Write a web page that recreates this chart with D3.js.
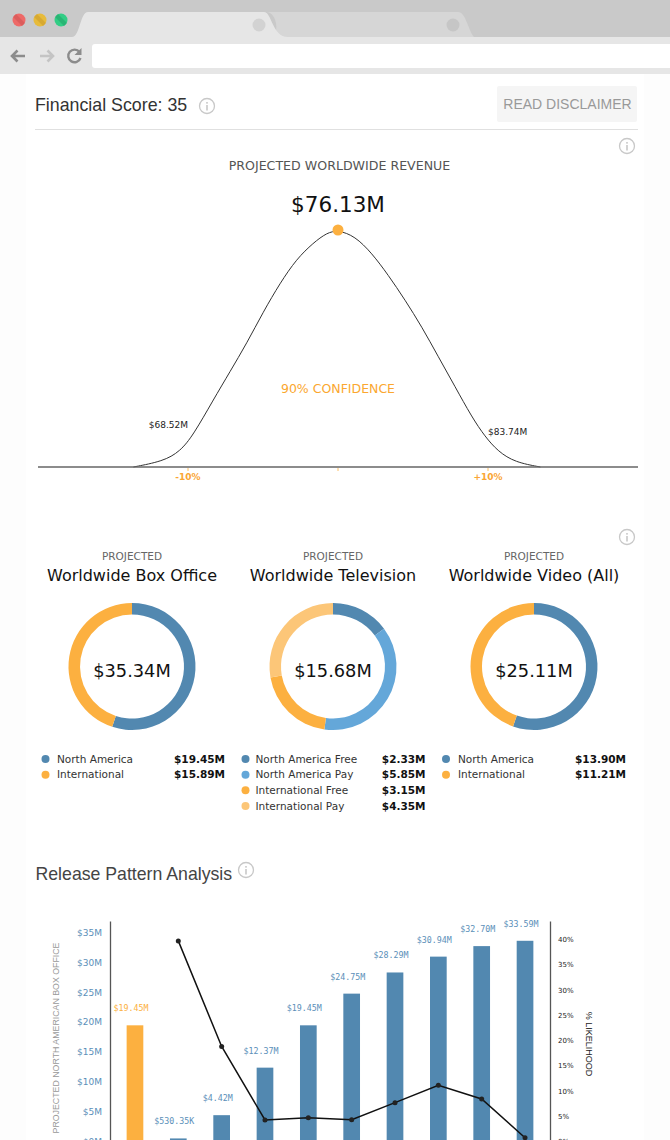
<!DOCTYPE html>
<html>
<head>
<meta charset="utf-8">
<script src="https://cdnjs.cloudflare.com/ajax/libs/d3/7.8.5/d3.min.js"></script>
<style>
	html, body { margin: 0; padding: 0; background: #fff; overflow: hidden; }
	svg { display: block; }
	text { font-family: "DejaVu Sans", sans-serif; }
	.helv { font-family: "Liberation Sans", Arial, sans-serif; }
	.mono { font-family: "DejaVu Sans Mono", monospace; }
	.domain { stroke: #555; stroke-width: 1.3; }
</style>
</head>
<body>
<svg id="page" width="670" height="1140"></svg>
<script>
// curve: revenue in $M, height in % of peak
var curve_revenue = [65.75, 67.25, 68.11, 68.79, 69.80, 70.65, 71.50, 72.34, 73.19, 74.03, 74.88, 75.56, 76.13, 76.99, 77.84, 78.68, 79.53, 80.38, 81.22, 82.07, 82.91, 83.59, 84.26, 85.11, 86.40]
var curve_height = [0, 2.4, 6.5, 13.5, 28.3, 40.2, 52.2, 65.5, 77.6, 87.8, 94.6, 98.8, 100, 97.4, 90.3, 81, 70.5, 59.2, 46.5, 33.9, 21.2, 12.8, 6.5, 2.0, 0]
var curve_ticks = [68.52, 76.13, 83.74]
var curve_tick_labels = ['-10%', '', '+10%']
var curve_value_labels = ['$68.52M', '$83.74M']

var donut_titles = ['Worldwide Box Office', 'Worldwide Television', 'Worldwide Video (All)']
var donut_totals = ['$35.34M', '$15.68M', '$25.11M']
var box_office_names = ['North America', 'International']
var box_office_values = [19.45, 15.89]
var television_names = ['North America Free', 'North America Pay', 'International Free', 'International Pay']
var television_values = [2.33, 5.85, 3.15, 4.35]
var video_names = ['North America', 'International']
var video_values = [13.90, 11.21]

var weeks = ['w0', 'w1', 'w2', 'w3', 'w4', 'w5', 'w6', 'w7', 'w8', 'w9']
var box_office = [19.45, 0.53035, 4.42, 12.37, 19.45, 24.75, 28.29, 30.94, 32.70, 33.59]
var box_office_labels = ['$19.45M', '$530.35K', '$4.42M', '$12.37M', '$19.45M', '$24.75M', '$28.29M', '$30.94M', '$32.70M', '$33.59M']
var likelihood = [null, 39.67, 18.8, 4.27, 4.73, 4.33, 7.7, 11.13, 8.42, 0.77]
var left_ticks = [0, 5, 10, 15, 20, 25, 30, 35]
var right_ticks = [0, 5, 10, 15, 20, 25, 30, 35, 40]

var BLUE = '#5288b0'
var LIGHT_BLUE = '#64a7d9'
var ORANGE = '#fcb040'
var LIGHT_ORANGE = '#fcc678'

var svg = d3.select('#page')

function label(parent, x, y, str, size, color, anchor, cls, weight){
	return parent.append('text')
		.attr('x', x)
		.attr('y', y)
		.attr('class', cls || null)
		.attr('text-anchor', anchor || 'start')
		.style('font-size', size + 'px')
		.style('font-weight', weight || 'normal')
		.style('fill', color)
		.text(str)
}

function info(x, y){
	var g = svg.append('g').attr('transform', 'translate(' + x + ',' + y + ')')
	g.append('circle').attr('r', 7.5).style('fill', 'none').style('stroke', '#c8c8c8').style('stroke-width', 1.3)
	g.append('circle').attr('cy', -3.2).attr('r', 0.9).style('fill', '#c0c0c0')
	g.append('rect').attr('x', -0.7).attr('y', -1).attr('width', 1.4).attr('height', 5.5).style('fill', '#c0c0c0')
}

function browser(){
	svg.append('rect').attr('width', 670).attr('height', 1140).style('fill', '#fdfdfd')
	svg.append('rect').attr('x', 26).attr('width', 618).attr('height', 1140).style('fill', '#fff')
	svg.append('rect').attr('width', 670).attr('height', 38).style('fill', '#c9c9c9')
	svg.append('path').attr('d', 'M270,37 C280,37 278,12 266,12 L458,12 C466,12 468,30 474,37 Z').style('fill', '#d6d6d6')
	svg.append('path').attr('d', 'M72,37 C80,37 80,12 88,12 L264,12 C272,12 272,37 288,37 Z').style('fill', '#e6e6e6')
	svg.append('rect').attr('y', 37).attr('width', 670).attr('height', 37).style('fill', '#e6e6e6')
	svg.append('rect').attr('x', 92).attr('y', 44).attr('width', 590).attr('height', 24).attr('rx', 3).style('fill', '#fff')
	var lights = [[19, '#ee6a68', '#d85a5a'], [40, '#e7bb3b', '#d4a52f'], [61, '#32cd85', '#28b070']]
	lights.forEach(function(l){
		svg.append('circle').attr('cx', l[0]).attr('cy', 20).attr('r', 6.5).style('fill', l[1])
		svg.append('path')
			.attr('d', 'M' + (l[0] - 4.5) + ',15.5 L' + (l[0] + 4.5) + ',24.5')
			.style('stroke', l[2]).style('stroke-width', 4).style('opacity', 0.8)
	})
	svg.append('circle').attr('cx', 259).attr('cy', 25).attr('r', 6.5).style('fill', '#d2d2d2')
	svg.append('circle').attr('cx', 453).attr('cy', 25).attr('r', 6.5).style('fill', '#c6c6c6')
	// back, forward, reload
	svg.append('path').attr('d', 'M25,56 H12 M17.5,50.5 L12,56 L17.5,61.5').style('fill', 'none').style('stroke', '#8c8c8c').style('stroke-width', 2.6)
	svg.append('path').attr('d', 'M40,56 H53 M47.5,50.5 L53,56 L47.5,61.5').style('fill', 'none').style('stroke', '#c4c4c4').style('stroke-width', 2.6)
	svg.append('path').attr('d', 'M79.5,52 A6.3,6.3 0 1 0 80.5,58').style('fill', 'none').style('stroke', '#8c8c8c').style('stroke-width', 2.4)
	svg.append('path').attr('d', 'M81.5,48 V55 H74.5 Z').style('fill', '#8c8c8c')
}

function header(){
	label(svg, 35, 111, 'Financial Score: 35', 17.8, '#333', 'start', 'helv')
	info(207, 106)
	svg.append('rect').attr('x', 497).attr('y', 86).attr('width', 140).attr('height', 36).attr('rx', 2).style('fill', '#f5f5f5')
	label(svg, 567.5, 109, 'READ DISCLAIMER', 14, '#999', 'middle', 'helv')
	svg.append('line').attr('x1', 35).attr('x2', 638).attr('y1', 129.5).attr('y2', 129.5).style('stroke', '#e0e0e0')
	info(627, 146)
}

function draw_curve(){
	var x = d3.scaleLinear().domain([60.91, 91.35]).range([38, 638])
	var y = d3.scaleLinear().domain([0, 100]).range([467, 230])
	var line = d3.line()
		.x(function(d){return x(d[0])})
		.y(function(d){return y(d[1])})
		.curve(d3.curveBasis)
	var points = d3.zip(curve_revenue, curve_height)

	label(svg, 339.5, 170, 'PROJECTED WORLDWIDE REVENUE', 12.6, '#555', 'middle')
	label(svg, 338, 212, '$76.13M', 21.5, '#111', 'middle')

	svg.append('path').attr('d', line(points)).style('fill', 'none').style('stroke', '#333').style('stroke-width', 1)
	svg.append('line').attr('x1', x.range()[0]).attr('x2', x.range()[1]).attr('y1', 467).attr('y2', 467).style('stroke', '#666').style('stroke-width', 1.4)

	curve_ticks.forEach(function(t, i){
		svg.append('line').attr('x1', x(t)).attr('x2', x(t)).attr('y1', 468).attr('y2', 471).style('stroke', ORANGE).style('stroke-width', 0.8)
		label(svg, x(t), 480, curve_tick_labels[i], 9, '#faa634', 'middle', null, 'bold')
	})
	label(svg, x(curve_ticks[0]), 428, curve_value_labels[0], 9, '#222', 'end')
	label(svg, x(curve_ticks[2]), 435, curve_value_labels[1], 9, '#222', 'start')
	label(svg, 338, 393, '90% CONFIDENCE', 12.5, '#fba72f', 'middle')
	svg.append('circle').attr('cx', x(76.13)).attr('cy', y(100)).attr('r', 5.5).style('fill', ORANGE)
}

function draw_donut(cx, i, names, values, colors, text_x, dot_x, value_x){
	var pie = d3.pie().sort(null)
	var arc = d3.arc().innerRadius(52).outerRadius(63.5)
	var g = svg.append('g').attr('transform', 'translate(' + cx + ',666.5)')

	label(svg, cx, 560, 'PROJECTED', 10.5, '#666', 'middle')
	label(svg, cx, 581, donut_titles[i], 16, '#111', 'middle')

	g.selectAll('path')
		.data(pie(values))
		.enter()
		.append('path')
		.attr('d', arc)
		.style('fill', function(d, k){return colors[k]})
	label(g, 0, 10, donut_totals[i], 17.8, '#111', 'middle')

	var row = d3.scaleLinear().domain([0, 3]).range([759, 806])
	names.forEach(function(n, k){
		svg.append('circle').attr('cx', dot_x).attr('cy', row(k)).attr('r', 4).style('fill', colors[k])
		label(svg, text_x, row(k) + 3.5, n, 10.5, '#333')
		label(svg, value_x, row(k) + 3.5, '$' + values[k].toFixed(2) + 'M', 10.5, '#111', 'end', null, 'bold')
	})
}

function draw_release(){
	label(svg, 35.5, 880, 'Release Pattern Analysis', 17.7, '#444', 'start', 'helv')
	info(246, 870)

	var x = d3.scaleBand().domain(weeks).range([113.3, 546.7]).paddingInner(0.615).paddingOuter(0.3075)
	var y_left = d3.scaleLinear().domain([0, 36.9]).range([1141.6, 921])
	var y_right = d3.scaleLinear().domain([0, 43.6]).range([1141.6, 921])

	var bars = svg.append('g')
	bars.selectAll('rect')
		.data(box_office)
		.enter()
		.append('rect')
		.attr('x', function(d, i){return x(weeks[i])})
		.attr('y', function(d){return y_left(d)})
		.attr('width', x.bandwidth())
		.attr('height', function(d){return y_left(0) - y_left(d)})
		.style('fill', function(d, i){return i === 0 ? ORANGE : BLUE})

	bars.selectAll('text')
		.data(box_office)
		.enter()
		.append('text')
		.attr('class', 'mono')
		.attr('x', function(d, i){return x(weeks[i]) + x.bandwidth() / 2 - 4})
		.attr('y', function(d){return y_left(d) - 14})
		.attr('text-anchor', 'middle')
		.style('font-size', '8.3px')
		.style('fill', function(d, i){return i === 0 ? ORANGE : '#5b8fb9'})
		.text(function(d, i){return box_office_labels[i]})

	var left = svg.append('g')
		.attr('transform', 'translate(110,0)')
		.call(d3.axisLeft(y_left).tickValues(left_ticks).tickSize(0).tickPadding(8).tickFormat(function(d){return '$' + d + 'M'}))
	left.selectAll('text').style('font-size', '9px').style('fill', '#5b8fb9')

	var right = svg.append('g')
		.attr('transform', 'translate(550,0)')
		.call(d3.axisRight(y_right).tickValues(right_ticks).tickSize(0).tickPadding(8).tickFormat(function(d){return d + '%'}))
	right.selectAll('text').style('font-size', '7px').style('fill', '#222')

	label(svg, 0, 0, 'PROJECTED NORTH AMERICAN BOX OFFICE', 8.8, '#999', 'middle', 'helv')
		.attr('transform', 'translate(59,1038) rotate(-90)')
	label(svg, 0, 0, '% LIKELIHOOD', 9, '#222', 'middle', 'helv')
		.attr('transform', 'translate(586,1044) rotate(90)')

	var points = likelihood.map(function(d, i){return {week: weeks[i], value: d}})
	var cx = function(d){return x(d.week) + x.bandwidth() / 2}
	var cy = function(d){return y_right(d.value)}
	var line = d3.line()
		.defined(function(d){return d.value !== null})
		.x(cx)
		.y(cy)
	svg.append('path').attr('d', line(points)).style('fill', 'none').style('stroke', '#111').style('stroke-width', 1.5)
	svg.append('g').selectAll('circle')
		.data(points.filter(function(d){return d.value !== null}))
		.enter()
		.append('circle')
		.attr('cx', cx)
		.attr('cy', cy)
		.attr('r', 2.5)
		.style('fill', '#222')
}

browser()
header()
draw_curve()
info(627, 537)
draw_donut(132, 0, box_office_names, box_office_values, [BLUE, ORANGE], 57, 45.5, 225)
draw_donut(333, 1, television_names, television_values, [BLUE, LIGHT_BLUE, ORANGE, LIGHT_ORANGE], 255.5, 245.5, 425.5)
draw_donut(534, 2, video_names, video_values, [BLUE, ORANGE], 458, 446, 626)
draw_release()
</script>
</body>
</html>
